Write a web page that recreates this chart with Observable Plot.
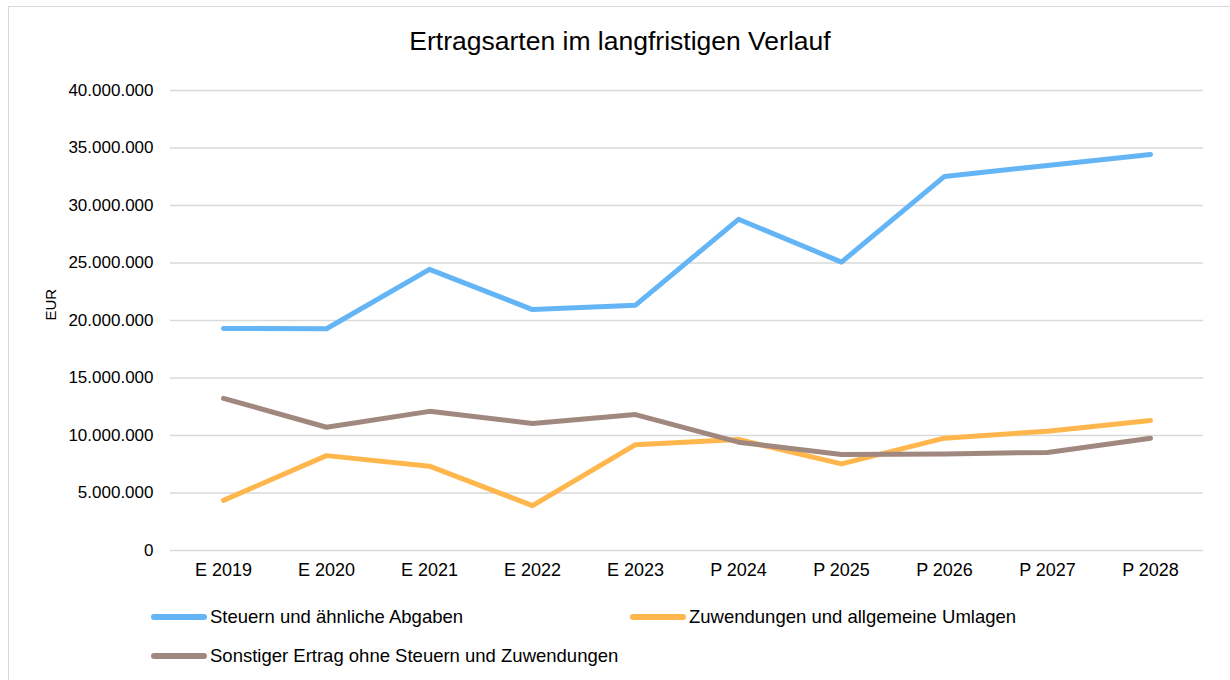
<!DOCTYPE html>
<html>
<head>
<meta charset="utf-8">
<script src="https://cdn.jsdelivr.net/npm/d3@7"></script>
<script src="https://cdn.jsdelivr.net/npm/@observablehq/plot@0.6"></script>
<style>
  html, body { margin: 0; padding: 0; background: #fff; }
  #wrap { position: relative; width: 1230px; height: 680px; overflow: hidden; font-family: "Liberation Sans", Arial, sans-serif; color: #000; }
  #frame { position: absolute; left: 8px; top: 6px; width: 1240px; height: 700px; border: 1.5px solid #d9d9d9; box-sizing: border-box; }
  #title { position: absolute; left: 0; width: 1240px; top: 26px; text-align: center; font-size: 26.5px; }
  #chart { position: absolute; left: 0; top: 0; }
  .leg { position: absolute; font-size: 18.5px; display: flex; align-items: center; white-space: nowrap; }
  .sw { display: inline-block; width: 56px; height: 5.5px; border-radius: 3px; margin-right: 3px; }
</style>
</head>
<body>
<div id="wrap">
  <div id="frame"></div>
  <div id="title">Ertragsarten im langfristigen Verlauf</div>
  <div id="chart"></div>
  <div id="legend"></div>
</div>
<script>
const categories = ["E 2019","E 2020","E 2021","E 2022","E 2023","P 2024","P 2025","P 2026","P 2027","P 2028"];
const steuern     = [19300000,19280000,24450000,20950000,21330000,28800000,25080000,32530000,33480000,34430000];
const zuwendungen = [4360000,8250000,7330000,3900000,9200000,9650000,7530000,9770000,10370000,11300000];
const sonstige    = [13230000,10720000,12100000,11050000,11820000,9420000,8340000,8400000,8530000,9760000];
const seriesNames = ["Steuern und ähnliche Abgaben","Zuwendungen und allgemeine Umlagen","Sonstiger Ertrag ohne Steuern und Zuwendungen"];
const seriesColors = ["#64b5f6","#ffb74d","#a1887f"];
const yTicks = [0,5000000,10000000,15000000,20000000,25000000,30000000,35000000,40000000];

const seriesValues = [steuern, zuwendungen, sonstige];
const rows = [];
seriesValues.forEach((vals, s) => vals.forEach((v, i) => rows.push({cat: categories[i], value: v, series: seriesNames[s]})));

const de = d3.formatLocale({decimal: ",", thousands: ".", grouping: [3], currency: ["", " €"]});
const fmt = de.format(",d");

const chart = Plot.plot({
  width: 1230,
  height: 580,
  marginTop: 90,
  marginBottom: 30,
  marginLeft: 170,
  marginRight: 27,
  style: {fontFamily: "Liberation Sans, Arial, sans-serif", fontSize: "17px", color: "#000", background: "transparent"},
  x: {type: "point", domain: categories, padding: 0.5, label: null},
  y: {domain: [0, 40000000], label: null},
  color: {domain: seriesNames, range: seriesColors},
  marks: [
    Plot.ruleY(yTicks, {stroke: "#d9d9d9", strokeWidth: 1.5}),
    Plot.axisY(yTicks, {tickSize: 0, tickPadding: 17, tickFormat: fmt, fill: "#000", fontSize: 17}),
    Plot.axisX(categories, {tickSize: 0, tickPadding: 13, fill: "#000", fontSize: 18}),
    Plot.line(rows, {x: "cat", y: "value", z: "series", stroke: "series", strokeWidth: 5, strokeLinecap: "round", strokeLinejoin: "round"}),
    Plot.text(["EUR"], {frameAnchor: "left", dx: -119, rotate: -90, fontSize: 15, fill: "#000", y: () => 20000000})
  ]
});
document.getElementById("chart").appendChild(chart);

const legendPos = [[151, 618], [630, 618], [151, 657]];
const legend = document.getElementById("legend");
seriesNames.forEach((name, i) => {
  const d = document.createElement("div");
  d.className = "leg";
  d.style.left = legendPos[i][0] + "px";
  d.style.top = (legendPos[i][1] - 12) + "px";
  d.innerHTML = `<span class="sw" style="background:${seriesColors[i]}"></span><span>${name}</span>`;
  legend.appendChild(d);
});
</script>
</body>
</html>
